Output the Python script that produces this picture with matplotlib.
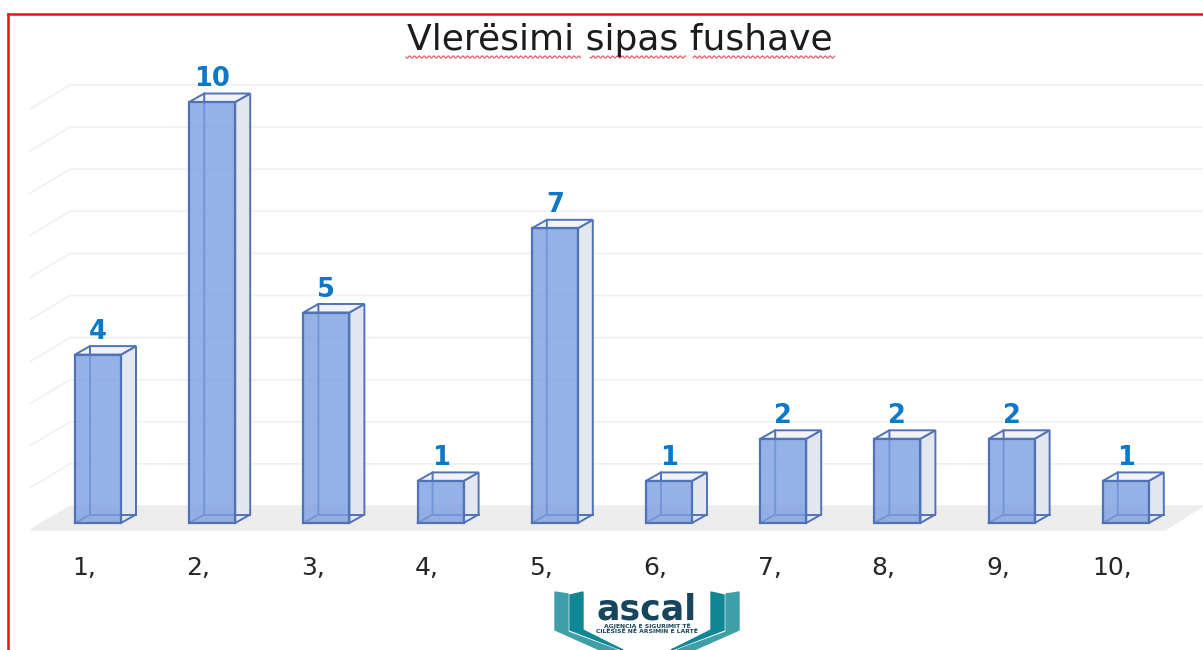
import numpy as np
import matplotlib.pyplot as plt
from matplotlib.patches import Polygon

labels = ["1,", "2,", "3,", "4,", "5,", "6,", "7,", "8,", "9,", "10,"]
values = [4, 10, 5, 1, 7, 1, 2, 2, 2, 1]
grid_levels = [1, 2, 3, 4, 5, 6, 7, 8, 9, 10]

W, H = 1203, 650
fig = plt.figure(figsize=(W / 100, H / 100), dpi=100)

# background axes in pixel coordinates, for frame, title and logo
bg = fig.add_axes([0, 0, 1, 1])
bg.set_xlim(0, W)
bg.set_ylim(H, 0)
bg.axis('off')

bg.plot([8, W], [14, 14], color='#f01010', lw=1.8)
bg.plot([8, 8], [14, H], color='#f01010', lw=1.8)

bg.text(620, 40, "Vlerësimi sipas fushave", fontsize=26, color='#1c1c1c', ha='center', va='center')

# spell checker squiggle under the title words
for x0, x1 in [(406, 581), (590, 686), (693, 835)]:
    xs = np.arange(x0, x1, 0.5)
    bg.plot(xs, 57 + 1.1 * np.sin(xs * 1.3), color='#e8505a', lw=0.8)

# logo
teal = '#3f9fa8'
teal2 = '#0f8794'
bg.add_patch(Polygon([(555, 592), (568, 594), (568, 632), (617, 650), (600, 650), (555, 630)], color=teal))
bg.add_patch(Polygon([(570, 595), (583, 592), (583, 630), (623, 650), (617, 648), (570, 630)], color=teal2))
bg.add_patch(Polygon([(739, 592), (726, 594), (726, 632), (677, 650), (694, 650), (739, 630)], color=teal))
bg.add_patch(Polygon([(724, 595), (711, 592), (711, 630), (671, 650), (677, 648), (724, 630)], color=teal2))
bg.text(647, 620, "ascal", fontsize=25, fontweight='bold', color='#17455c', ha='center', va='baseline')
bg.text(647, 629, "AGJENCIA E SIGURIMIT TË\nCILËSISË NË ARSIMIN E LARTË", fontsize=4.4, fontweight='bold',
        color='#17455c', ha='center', va='center', linespacing=1.0)

# chart axes, value 0 at y=523 and value 10 at y=102
left, right = 40.9, 1182.9
ax = fig.add_axes([left / W, 1 - 523 / H, (right - left) / W, (523 - 102) / H])
ax.patch.set_alpha(0)
ax.set_xlim(-0.5, 9.5)
ax.set_ylim(0, 10)
for s in ax.spines.values():
    s.set_visible(False)

px = (right - left) / 10
py = (523 - 102) / 10
bar_w = 46 / px
dx = 15 / px
dy = 8.5 / py
x = np.arange(len(values))

# floor
y_front = -7 / py
y_back = 17 / py
x_fl = (30 - left) / px - 0.5
x_bl = (70 - left) / px - 0.5
x_fr = (1165 - left) / px - 0.5
x_br = (1203 - left) / px - 0.5
ax.add_patch(Polygon([(x_fl, y_front), (x_bl, y_back), (x_br, y_back), (x_fr, y_front)],
                     color='#ededed', clip_on=False, zorder=1))

# walls
for g in grid_levels:
    ax.plot([x_fl, x_bl, x_br], [g + y_front, g + y_back, g + y_back], color='#f0f0f0', lw=1.2,
            clip_on=False, zorder=1)

edge = '#5073b8'
for i, v in enumerate(values):
    l = x[i] - bar_w / 2
    r = x[i] + bar_w / 2
    # right side and top
    ax.add_patch(Polygon([(r, 0), (r + dx, dy), (r + dx, v + dy), (r, v)], fc='#e3e7ef', ec=edge, lw=1.4,
                         clip_on=False, zorder=2))
    ax.add_patch(Polygon([(l, v), (l + dx, v + dy), (r + dx, v + dy), (r, v)], fc='#f1f3f7', ec=edge, lw=1.4,
                         clip_on=False, zorder=2))
    # back edges seen through the front
    ax.plot([l, l + dx, l + dx], [0, dy, v + dy], color=edge, lw=1.4, zorder=3, clip_on=False)
    ax.plot([l + dx, r + dx], [dy, dy], color=edge, lw=1.4, zorder=3, clip_on=False)

ax.bar(x, values, width=bar_w, color='#7b9fe0', alpha=0.8, zorder=4, clip_on=False)
ax.bar(x, values, width=bar_w, fill=False, edgecolor=edge, linewidth=1.6, zorder=5, clip_on=False)

for i, v in enumerate(values):
    ax.annotate(str(v), (x[i], v), xytext=(0, 16.5), textcoords='offset points', ha='center', va='center',
                fontsize=18.5, fontweight='bold', color='#0b78c8', zorder=6, annotation_clip=False)

ax.set_yticks([])
ax.set_xticks(x - 0.12)
ax.set_xticklabels(labels, fontsize=18, color='#262626')
ax.tick_params(axis='x', length=0, pad=24)

fig.savefig('out.png', dpi=100)
